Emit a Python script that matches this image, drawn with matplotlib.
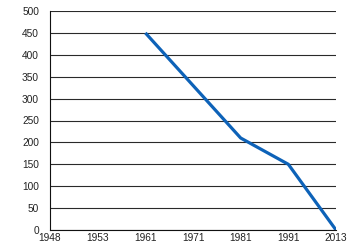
import matplotlib
matplotlib.use('Agg')
import matplotlib.pyplot as plt
import numpy as np

plt.rcParams['font.family'] = ['Liberation Sans', 'DejaVu Sans']

# category labels along the x axis and the series values
years = ['1948', '1953', '1961', '1971', '1981', '1991', '2013']
values = [np.nan, np.nan, 450, 330, 210, 150, 0]

fig, ax = plt.subplots(figsize=(3.5, 2.5), dpi=100)
fig.subplots_adjust(left=0.143, right=0.96, top=0.956, bottom=0.08)

x = np.arange(len(years))
ax.plot(x, values, color='#0d62b8', linewidth=2.3, solid_capstyle='butt')

ax.set_xlim(0, len(years) - 1)
ax.set_ylim(0, 500)
ax.set_xticks(x)
ax.set_xticklabels(years)
ax.set_yticks(np.arange(0, 501, 50))
ax.tick_params(axis='both', length=0, labelsize=7.3, colors='#222222')
ax.tick_params(axis='x', pad=2.5)
ax.tick_params(axis='y', pad=8)

ax.yaxis.grid(True, color='#2a2a2a', linewidth=0.8)
ax.set_axisbelow(True)
for side in ['top', 'right']:
    ax.spines[side].set_visible(False)
ax.spines['left'].set_color('#111111')
ax.spines['bottom'].set_color('#111111')

fig.savefig('out.png', dpi=100)
